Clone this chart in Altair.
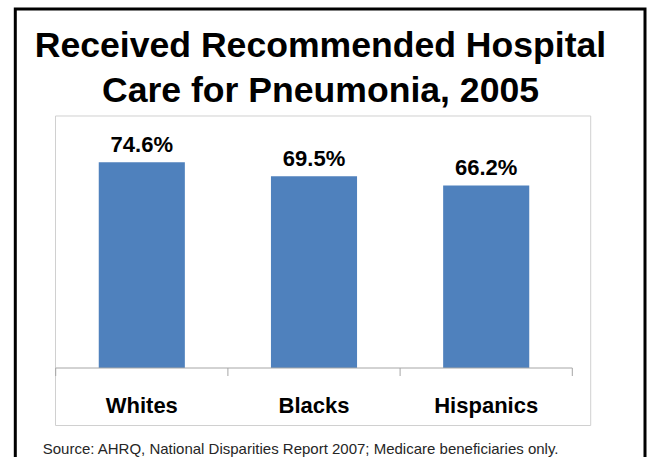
import altair as alt
import pandas as pd

# ---- data ----
categories = ["Whites", "Blacks", "Hispanics"]
values = [74.6, 69.5, 66.2]
title_lines = ["Received Recommended Hospital", "Care for Pneumonia, 2005"]
source_note = ["Source: AHRQ, National Disparities Report 2007; Medicare beneficiaries only."]

FONT = "Liberation Sans"
BLUE = "#4F81BD"

df = pd.DataFrame({
    "group": categories,
    "pct": values,
    "label": [f"{v:.1f}%" for v in values],
})

# plot-area geometry (canvas 648 x 457)
W, H = 516.6, 220.6
PAD_L, PAD_T = 55.7, 147.4
PAD_R = 648 - PAD_L - W
PAD_B = 457 - PAD_T - H

x = alt.X("group:N", sort=categories, axis=None,
          scale=alt.Scale(paddingInner=0.5, paddingOuter=0.25))
y = alt.Y("pct:Q", axis=None, scale=alt.Scale(domain=[0, 80]))

one = pd.DataFrame({"k": [0]})

frame = alt.Chart(one).mark_rect(fill="white", fillOpacity=0, stroke="black", strokeWidth=3).encode(
    x=alt.value(15.3 - PAD_L), x2=alt.value(645 - PAD_L),
    y=alt.value(9 - PAD_T), y2=alt.value(500 - PAD_T))

box = alt.Chart(one).mark_rect(fill="white", fillOpacity=0, stroke="#D0D0D0", strokeWidth=1).encode(
    x=alt.value(55.5 - PAD_L), x2=alt.value(590.7 - PAD_L),
    y=alt.value(116 - PAD_T), y2=alt.value(425.5 - PAD_T))

bars = alt.Chart(df).mark_bar(color=BLUE).encode(x=x, y=y)

axis_line = alt.Chart(one).mark_rule(color="#A6A6A6", strokeWidth=1).encode(
    x=alt.value(0), x2=alt.value(W), y=alt.value(H))

tick_layers = [
    alt.Chart(one).mark_rule(color="#A6A6A6", strokeWidth=1).encode(
        x=alt.value(W * i / 3), y=alt.value(H), y2=alt.value(H + 8))
    for i in range(4)
]

value_labels = alt.Chart(df).mark_text(
    font=FONT, fontSize=22, fontWeight="bold", color="black",
    baseline="alphabetic", dy=-10.6).encode(x=x, y=y, text="label:N")

cat_labels = alt.Chart(df).mark_text(
    font=FONT, fontSize=22, fontWeight="bold", color="black",
    baseline="alphabetic").encode(x=x, y=alt.value(413.3 - PAD_T), text="group:N")

t1 = alt.Chart(pd.DataFrame({"t": [title_lines[0]]})).mark_text(
    font=FONT, fontSize=35.6, fontWeight="bold", color="black",
    baseline="alphabetic", align="center").encode(
    x=alt.value(320.5 - PAD_L), y=alt.value(57 - PAD_T), text="t:N")

t2 = alt.Chart(pd.DataFrame({"t": [title_lines[1]]})).mark_text(
    font=FONT, fontSize=35.6, fontWeight="bold", color="black",
    baseline="alphabetic", align="center").encode(
    x=alt.value(320.5 - PAD_L), y=alt.value(102.5 - PAD_T), text="t:N")

src = alt.Chart(pd.DataFrame({"s": source_note})).mark_text(
    font=FONT, fontSize=15, color="#262626",
    baseline="alphabetic", align="left").encode(
    x=alt.value(42.7 - PAD_L), y=alt.value(454 - PAD_T), text="s:N")

chart = alt.layer(
    box, bars, axis_line, *tick_layers, value_labels, cat_labels, t1, t2, src, frame
).properties(
    width=W, height=H,
    padding={"left": PAD_L, "top": PAD_T, "right": PAD_R, "bottom": PAD_B},
    autosize=alt.AutoSizeParams(type="none"),
    background="white",
).configure_view(strokeWidth=0)

chart.save("out.html", embed_options={"renderer": "svg", "actions": False})
